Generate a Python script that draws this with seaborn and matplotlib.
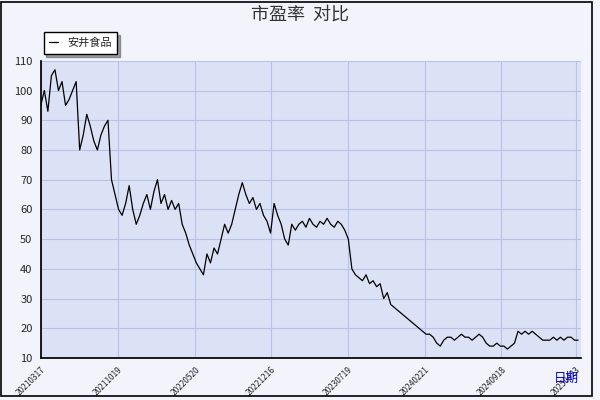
import numpy as np
import matplotlib
matplotlib.use("Agg")
import matplotlib.pyplot as plt
import seaborn as sns

# PE ratio values (roughly even spacing in trading days)
pe_values = [
    95, 100, 93, 105, 107, 100, 103, 95, 97, 100, 103, 80, 85, 92, 88, 83, 80, 85, 88, 90,
    70, 65, 60, 58, 62, 68, 60, 55, 58, 62, 65, 60, 66, 70, 62, 65, 60, 63, 60, 62, 55,
    52, 48, 45, 42, 40, 38, 45, 42, 47, 45, 50, 55, 52, 55, 60, 65, 69, 65, 62, 64, 60,
    62, 58, 56, 52, 62, 58, 55, 50, 48, 55, 53, 55, 56, 54, 57, 55, 54, 56, 55, 57, 55,
    54, 56, 55, 53, 50, 40, 38, 37, 36, 38, 35, 36, 34, 35, 30, 32, 28, 27, 26, 25, 24,
    23, 22, 21, 20, 19, 18, 18, 17, 15, 14, 16, 17, 17, 16, 17, 18, 17, 17, 16, 17, 18,
    17, 15, 14, 14, 15, 14, 14, 13, 14, 15, 19, 18, 19, 18, 19, 18, 17, 16, 16, 16, 17,
    16, 17, 16, 17, 17, 16, 16,
]
tick_labels = ["20210317", "20211019", "20220520", "20221216",
               "20230719", "20240221", "20240918", "20250423"]
series_name = "安井食品"

sns.set_theme(style="whitegrid")
plt.rcParams['font.family'] = ['Noto Sans CJK SC', 'DejaVu Sans']

fig = plt.figure(figsize=(6, 4), dpi=100, facecolor="#f2f3fb")
ax = fig.add_axes([0.068, 0.105, 0.9, 0.743])
ax.set_facecolor("#dbe2f6")

n = len(pe_values)
x = np.arange(n)
sns.lineplot(x=x, y=pe_values, ax=ax, color="black", linewidth=0.9, label=series_name)

span = n - 1
tick_pos = [(p - 41) / (580 - 41) * span for p in [41, 118, 196, 272, 349, 426, 503, 578]]
ax.set_xticks(tick_pos)
ax.set_xticklabels(tick_labels, rotation=45, ha="right", rotation_mode="anchor", fontsize=6)
ax.set_xlim(0, span * 1.005)
ax.set_ylim(10, 110)
ax.set_yticks(range(10, 111, 10))
ax.tick_params(axis="y", labelsize=8, length=4, color="black", pad=2)
ax.tick_params(axis="x", length=4, color="black", pad=1)
ax.grid(True, color="#b7c3e6", linewidth=0.8)
for s in ["left", "bottom"]:
    ax.spines[s].set_color("black")
for s in ["right", "top"]:
    ax.spines[s].set_visible(False)

fig.suptitle("市盈率  对比", y=0.985, fontsize=13, color="#333333")
fig.text(0.965, 0.045, "日期", color="#0000cc", fontsize=9, ha="right")

leg = ax.legend(loc="lower left", bbox_to_anchor=(-0.005, 1.005), frameon=True,
                fancybox=False, shadow=True, fontsize=8, handlelength=0.8,
                borderpad=0.5)
leg.get_frame().set_edgecolor("black")
leg.get_frame().set_facecolor("white")

# outer border
fig.patches.append(plt.Rectangle((0.002, 0.01), 0.985, 0.985, transform=fig.transFigure,
                                 fill=False, edgecolor="black", linewidth=1.2))

fig.savefig("out.png", dpi=100, facecolor=fig.get_facecolor())
